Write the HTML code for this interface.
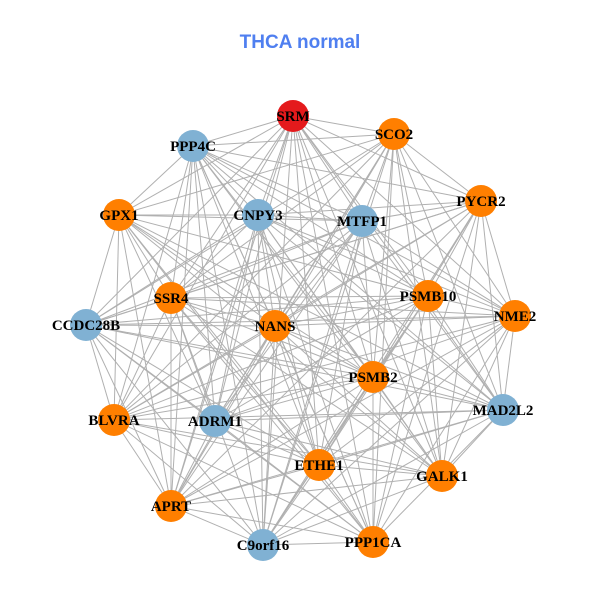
<!DOCTYPE html>
<html><head><meta charset="utf-8"><style>body{margin:0;background:#fff}svg{display:block}</style></head>
<body>
<svg id="g" width="600" height="600" xmlns="http://www.w3.org/2000/svg">
<rect width="600" height="600" fill="#fff"/>
<text x="300" y="48" text-anchor="middle" font-family="Liberation Sans, sans-serif" font-weight="bold" font-size="19" fill="#4f7ff0">THCA normal</text>
<g id="edges" stroke="#b0b0b0" stroke-width="1"></g>
<g id="nodes"></g>
<g font-family="Liberation Serif, serif" font-weight="bold" font-size="15" fill="#000" text-anchor="middle">
<text x="293" y="121">SRM</text>
<text x="394" y="139">SCO2</text>
<text x="193" y="151">PPP4C</text>
<text x="481" y="206">PYCR2</text>
<text x="119" y="220">GPX1</text>
<text x="258" y="220">CNPY3</text>
<text x="362" y="226">MTFP1</text>
<text x="171" y="303">SSR4</text>
<text x="428" y="301">PSMB10</text>
<text x="515" y="321">NME2</text>
<text x="86" y="330">CCDC28B</text>
<text x="275" y="331">NANS</text>
<text x="373" y="382">PSMB2</text>
<text x="503" y="415">MAD2L2</text>
<text x="114" y="425">BLVRA</text>
<text x="215" y="426">ADRM1</text>
<text x="319" y="470">ETHE1</text>
<text x="442" y="481">GALK1</text>
<text x="171" y="511">APRT</text>
<text x="373" y="547">PPP1CA</text>
<text x="263" y="550">C9orf16</text>
</g>
</svg>
<script>
var N=[[293,116,'#e41a1c'],[394,134,'#ff7f00'],[193,146,'#80b1d3'],[481,201,'#ff7f00'],[119,215,'#ff7f00'],[258,215,'#80b1d3'],[362,221,'#80b1d3'],[171,298,'#ff7f00'],[428,296,'#ff7f00'],[515,316,'#ff7f00'],[86,325,'#80b1d3'],[275,326,'#ff7f00'],[373,377,'#ff7f00'],[503,410,'#80b1d3'],[114,420,'#ff7f00'],[215,421,'#80b1d3'],[319,465,'#ff7f00'],[442,476,'#ff7f00'],[171,506,'#ff7f00'],[373,542,'#ff7f00'],[263,545,'#80b1d3']];
var ns='http://www.w3.org/2000/svg',E=document.getElementById('edges'),G=document.getElementById('nodes');
for(var i=0;i<N.length;i++)for(var j=i+1;j<N.length;j++){if((i*7+j*3)%11==0)continue;var l=document.createElementNS(ns,'line');l.setAttribute('x1',N[i][0]);l.setAttribute('y1',N[i][1]);l.setAttribute('x2',N[j][0]);l.setAttribute('y2',N[j][1]);E.appendChild(l);}
N.forEach(function(n){var c=document.createElementNS(ns,'circle');c.setAttribute('cx',n[0]);c.setAttribute('cy',n[1]);c.setAttribute('r',16);c.setAttribute('fill',n[2]);G.appendChild(c);});
</script>
</body></html>
